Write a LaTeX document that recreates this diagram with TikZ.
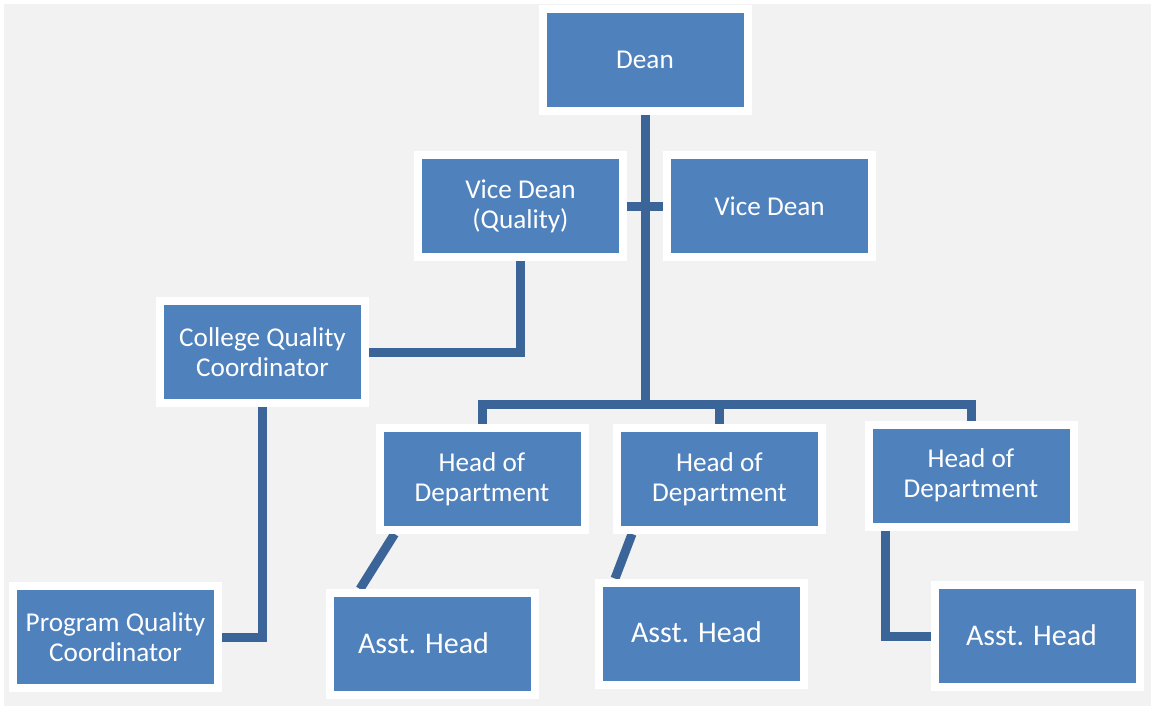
\documentclass[tikz,border=0pt]{standalone}
\usepackage{fontspec}
\setmainfont{Carlito}
\usetikzlibrary{backgrounds}
\definecolor{boxblue}{HTML}{4F81BD}
\definecolor{linkblue}{HTML}{3B6598}
\definecolor{paper}{HTML}{F2F2F2}
\begin{document}
\begin{tikzpicture}[x=0.5pt,y=-0.5pt,
  unit/.style={rectangle, fill=boxblue, draw=white, line width=4pt,
    minimum width=102.5pt, minimum height=51pt, inner sep=0pt,
    text=white, align=center, font=\fontsize{13.6}{15}\selectfont},
  asst/.style={unit, font=\fontsize{15}{17}\selectfont},
  link/.style={draw=linkblue, line width=4.5pt, line join=miter}]
\useasboundingbox (0,0) rectangle (1151,707);

% boxes
\node[unit] (dean) at (645,60) {Dean};
\node[unit] (vdq)  at (520.5,206) {Vice Dean\\(Quality)};
\node[unit] (vd)   at (769.5,206) {Vice Dean};
\node[unit] (cqc)  at (262.5,352) {College Quality\\Coordinator};
\node[unit] (pqc)  at (115.5,637) {Program Quality\\Coordinator};
\node[unit] (hod1) at (482,479) {Head of\\Department};
\node[unit] (hod2) at (719.5,479) {Head of\\Department};
\node[unit] (hod3) at (971,475.5) {Head of\\Department};
\node[asst] (asst1) at (432.5,644) {\raisebox{1pt}{Asst. Head}\hspace*{9pt}};
\node[asst] (asst2) at (701.5,633.5) {\raisebox{1pt}{Asst. Head}\hspace*{5pt}};
\node[asst] (asst3) at (1037.5,636) {\raisebox{1pt}{Asst. Head}\hspace*{6pt}};
\coordinate (bus) at (645,404);

% page and connectors, kept behind the boxes
\begin{scope}[on background layer]
  \fill[white] (0,0) rectangle (1151,707);
  \fill[paper] (4,4) rectangle (1151,706);
  \draw[link] (dean) -- (bus);
  \draw[link] (vdq) -- (vd);
  \draw[link] (hod1) |- (bus) -| (hod3);
  \draw[link] (bus) -| (hod2);
  \draw[link] (vdq) |- (cqc);
  \draw[link] (cqc) |- (pqc);
  \draw[link] ([xshift=9.5pt]hod1.south west) -- ([xshift=17pt]asst1.north west);
  \draw[link] ([xshift=9.5pt]hod2.south west) -- ([xshift=10pt]asst2.north west);
  \draw[link] ([xshift=10.5pt]hod3.south west) |- (asst3);
\end{scope}
\end{tikzpicture}
\end{document}
